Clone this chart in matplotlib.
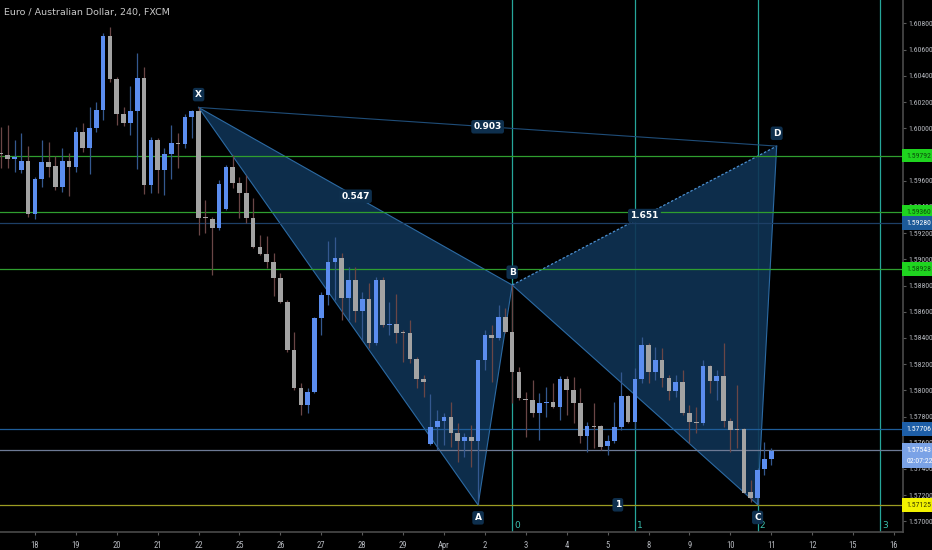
#!/usr/bin/env python3
"""EUR/AUD 4h candles with an XABCD pattern, price lines and fib time zones."""

import matplotlib
matplotlib.use("Agg")
import matplotlib.pyplot as plt
import matplotlib.transforms as mtransforms
from matplotlib import font_manager
import numpy as np

# 4h bars, first bar is 5 bars before Mar 18 00:00
first_bar = -5
opens = [
    1.59805, 1.59796, 1.59768, 1.59681, 1.59752, 1.59345, 1.59610, 1.59742, 1.59712, 1.59549,
    1.59747, 1.59702, 1.59969, 1.59852, 1.59999, 1.60139, 1.60706, 1.60373, 1.60106, 1.60037,
    1.60134, 1.60381, 1.59567, 1.59910, 1.59681, 1.59801, 1.59885, 1.59880, 1.60088, 1.60129,
    1.59317, 1.59310, 1.59241, 1.59381, 1.59707, 1.59579, 1.59503, 1.59317, 1.59096, 1.59038,
    1.58977, 1.58854, 1.58677, 1.58308, 1.58015, 1.57888, 1.57990, 1.58555, 1.58728, 1.58982,
    1.59007, 1.58702, 1.58842, 1.58608, 1.58697, 1.58359, 1.58842, 1.58496, 1.58504, 1.58440,
    1.58440, 1.58237, 1.58087, 1.57588, 1.57723, 1.57769, 1.57799, 1.57677, 1.57616, 1.57646,
    1.57616, 1.58232, 1.58422, 1.58397, 1.58562, 1.58448, 1.58142, 1.57934, 1.57926, 1.57830,
    1.57906, 1.57914, 1.57870, 1.58084, 1.58003, 1.57905, 1.57651, 1.57727, 1.57727, 1.57575,
    1.57613, 1.57717, 1.57956, 1.57760, 1.58086, 1.58346, 1.58142, 1.58231, 1.58091, 1.57997,
    1.58066, 1.57824, 1.57760, 1.57753, 1.58185, 1.58073, 1.58109, 1.57768, 1.57702, 1.57702,
    1.57226, 1.57175, 1.57397, 1.57473,
]
highs = [
    1.60007, 1.60025, 1.59910, 1.59961, 1.59864, 1.59630, 1.59910, 1.59897, 1.59788, 1.59847,
    1.59808, 1.60007, 1.60037, 1.60159, 1.60203, 1.60729, 1.60770, 1.60394, 1.60159, 1.60322,
    1.60572, 1.60470, 1.59936, 1.59923, 1.59847, 1.60025, 1.59961, 1.60106, 1.60139, 1.60159,
    1.59452, 1.59325, 1.59605, 1.59717, 1.59796, 1.59630, 1.59641, 1.59465, 1.59185, 1.59177,
    1.59050, 1.58893, 1.58689, 1.58448, 1.58053, 1.58015, 1.58562, 1.58753, 1.59142, 1.59173,
    1.59046, 1.58944, 1.58944, 1.58753, 1.58817, 1.58868, 1.58868, 1.58677, 1.58735, 1.58460,
    1.58537, 1.58257, 1.58117, 1.57972, 1.57850, 1.57825, 1.57914, 1.57748, 1.57672, 1.57735,
    1.58232, 1.58460, 1.58499, 1.58651, 1.58626, 1.58804, 1.58181, 1.57990, 1.58079, 1.57977,
    1.58028, 1.58053, 1.58109, 1.58109, 1.58104, 1.58015, 1.57760, 1.57900, 1.57735, 1.57659,
    1.57913, 1.58142, 1.57964, 1.58167, 1.58409, 1.58358, 1.58333, 1.58320, 1.58117, 1.58117,
    1.58155, 1.57888, 1.57875, 1.58231, 1.58193, 1.58155, 1.58358, 1.57786, 1.58040, 1.57710,
    1.57315, 1.57404, 1.57608, 1.57557,
]
lows = [
    1.59694, 1.59694, 1.59669, 1.59656, 1.59325, 1.59305, 1.59554, 1.59630, 1.59529, 1.59516,
    1.59483, 1.59669, 1.59821, 1.59651, 1.59974, 1.60063, 1.60355, 1.60025, 1.60017, 1.59948,
    1.59686, 1.59498, 1.59503, 1.59508, 1.59490, 1.59610, 1.59694, 1.59847, 1.59923, 1.59185,
    1.59198, 1.58880, 1.59223, 1.59376, 1.59541, 1.59312, 1.59274, 1.59083, 1.59032, 1.58931,
    1.58720, 1.58664, 1.58295, 1.58003, 1.57812, 1.57830, 1.57977, 1.58422, 1.58651, 1.58689,
    1.58537, 1.58537, 1.58524, 1.58384, 1.58321, 1.58346, 1.58486, 1.58422, 1.58359, 1.58219,
    1.58206, 1.58015, 1.57952, 1.57583, 1.57545, 1.57583, 1.57570, 1.57456, 1.57494, 1.57417,
    1.57125, 1.58155, 1.58066, 1.58384, 1.58435, 1.57906, 1.57926, 1.57646, 1.57799, 1.57621,
    1.57799, 1.57863, 1.57774, 1.57812, 1.57748, 1.57595, 1.57532, 1.57557, 1.57544, 1.57506,
    1.57595, 1.57697, 1.57748, 1.57710, 1.58053, 1.58053, 1.58078, 1.58028, 1.57926, 1.57951,
    1.57811, 1.57595, 1.57671, 1.57735, 1.57977, 1.57926, 1.57722, 1.57532, 1.57557, 1.57213,
    1.57150, 1.57128, 1.57353, 1.57430,
]
closes = [
    1.59800, 1.59762, 1.59783, 1.59752, 1.59345, 1.59610, 1.59742, 1.59707, 1.59554, 1.59747,
    1.59702, 1.59969, 1.59852, 1.59999, 1.60139, 1.60706, 1.60373, 1.60106, 1.60037, 1.60134,
    1.60381, 1.59567, 1.59910, 1.59681, 1.59801, 1.59885, 1.59880, 1.60088, 1.60129, 1.59317,
    1.59312, 1.59241, 1.59574, 1.59707, 1.59579, 1.59503, 1.59317, 1.59096, 1.59038, 1.58977,
    1.58854, 1.58677, 1.58308, 1.58015, 1.57888, 1.57990, 1.58555, 1.58728, 1.58982, 1.59007,
    1.58702, 1.58842, 1.58608, 1.58697, 1.58359, 1.58842, 1.58499, 1.58504, 1.58440, 1.58435,
    1.58237, 1.58087, 1.58061, 1.57723, 1.57766, 1.57799, 1.57672, 1.57616, 1.57646, 1.57616,
    1.58232, 1.58422, 1.58397, 1.58562, 1.58448, 1.58142, 1.57939, 1.57926, 1.57825, 1.57906,
    1.57914, 1.57875, 1.58084, 1.58003, 1.57905, 1.57651, 1.57727, 1.57722, 1.57570, 1.57613,
    1.57722, 1.57956, 1.57760, 1.58086, 1.58346, 1.58142, 1.58231, 1.58091, 1.57997, 1.58066,
    1.57824, 1.57760, 1.57753, 1.58185, 1.58073, 1.58109, 1.57768, 1.57697, 1.57697, 1.57219,
    1.57175, 1.57392, 1.57473, 1.57539,
]

day_labels = ["18", "19", "20", "21", "22", "25", "26", "27", "28", "29", "Apr",
              "2", "3", "4", "5", "8", "9", "10", "11", "12", "15", "16"]
bars_per_day = 6

# XABCD pattern (bar index, price)
pattern_names = ["X", "A", "B", "C", "D"]
pattern_bars = [24, 65, 70, 106, 108.8]
pattern_prices = [1.60159, 1.57125, 1.58804, 1.57128, 1.59864]
ratio_labels = {("X", "B"): "0.547", ("A", "C"): "1", ("B", "D"): "1.651", ("X", "D"): "0.903"}

# horizontal price lines: level, line colour, box colour, text colour
price_levels = [1.59792, 1.59360, 1.59280, 1.58928, 1.57706, 1.57543, 1.57125]
level_line_colors = ["#2f9e2f", "#2f9e2f", "#1d3f66", "#2f9e2f", "#1f5d99", "#6d7a95", "#9c9c22"]
level_box_colors = ["#1fd41f", "#1fd41f", "#1c5a99", "#1fd41f", "#1e5fa8", "#7aa2e6", "#f2f200"]
level_text_colors = ["#0b4d0b", "#0b4d0b", "white", "#0b4d0b", "white", "white", "#3a3a00"]
countdown = "02:07:22"

# scale ticks; 1.59800 is hidden behind the 1.59792 box on the original
scale_ticks = [1.570, 1.572, 1.574, 1.576, 1.578, 1.580, 1.582, 1.584, 1.586, 1.588,
               1.590, 1.592, 1.594, 1.596, 1.600, 1.602, 1.604, 1.606, 1.608]

# fib time zones
time_zone_bars = [70, 88, 106, 124]
time_zone_labels = ["0", "1", "2", "3"]

title = "Euro / Australian Dollar, 240, FXCM"

BG = "#000000"
UP = "#5b8def"
DOWN = "#a3a3a3"
UP_WICK = "#34588f"
DOWN_WICK = "#6a4646"
AXIS_TXT = "#b4b7bd"


def pick_narrow_font() -> list[str]:
    names = {f.name for f in font_manager.fontManager.ttflist}
    for cand in ("Liberation Sans Narrow", "Roboto Condensed", "Open Sans Condensed"):
        if cand in names:
            return [cand, "DejaVu Sans"]
    return ["Liberation Sans", "DejaVu Sans"]


def main() -> None:
    narrow = pick_narrow_font()
    scale_size = 5.6 if "Narrow" in narrow[0] or "Condensed" in narrow[0] else 4.9

    fig = plt.figure(figsize=(9.32, 5.5), dpi=100, facecolor=BG)
    ax = fig.add_axes([0, 18 / 550, 903 / 932, 532 / 550], facecolor=BG)

    o = np.array(opens)
    h = np.array(highs)
    l = np.array(lows)
    c = np.array(closes)
    x = np.arange(len(c)) + first_bar
    up = c >= o

    # time zones (behind everything)
    for b, lab in zip(time_zone_bars, time_zone_labels):
        ax.axvline(b, color="#26a69a", lw=0.9, zorder=1)
        ax.annotate(lab, xy=(b, 0), xycoords=("data", "axes fraction"),
                    xytext=(1.5, 1.5), textcoords="offset points",
                    color="#3cc0b0", fontsize=6.5, va="bottom", ha="left")

    # pattern triangles
    pts = dict(zip(pattern_names, zip(pattern_bars, pattern_prices)))
    for tri in (("X", "A", "B"), ("B", "C", "D")):
        xs = [pts[n][0] for n in tri]
        ys = [pts[n][1] for n in tri]
        ax.fill(xs, ys, color="#0f3354", alpha=0.9, lw=0, zorder=2)
    for a, b in (("X", "A"), ("A", "B"), ("B", "C"), ("C", "D"), ("X", "B")):
        ax.plot([pts[a][0], pts[b][0]], [pts[a][1], pts[b][1]],
                color="#2c6aa3", lw=0.8, zorder=2.5)
    ax.plot([pts["B"][0], pts["D"][0]], [pts["B"][1], pts["D"][1]],
            color="#4b8fd0", lw=0.9, ls=(0, (2, 1.5)), zorder=2.5)
    ax.plot([pts["X"][0], pts["D"][0]], [pts["X"][1], pts["D"][1]],
            color="#1f4d78", lw=0.8, zorder=2.5)

    # price lines
    for lvl, col in zip(price_levels, level_line_colors):
        ax.axhline(lvl, color=col, lw=0.9, zorder=3)

    # candles
    wick_cols = np.where(up, UP_WICK, DOWN_WICK)
    ax.vlines(x, l, h, colors=wick_cols, lw=0.9, zorder=4)
    body_lo = np.minimum(o, c)
    body_h = np.maximum(np.abs(c - o), 0.00008)
    ax.bar(x, body_h, bottom=body_lo, width=0.68,
           color=np.where(up, UP, DOWN), lw=0, zorder=5)

    # ratio labels
    box = dict(boxstyle="round,pad=0.25", fc="#0e2f4d", ec="none")
    for (a, b), txt in ratio_labels.items():
        mx = (pts[a][0] + pts[b][0]) / 2
        my = (pts[a][1] + pts[b][1]) / 2
        ax.text(mx, my, txt, color="white", fontsize=6.5, fontweight="bold",
                ha="center", va="center", bbox=box, zorder=7)

    # point labels
    for n in pattern_names:
        below = n in ("A", "C")
        ax.annotate(n, xy=pts[n], xytext=(0, -6 if below else 6),
                    textcoords="offset points", ha="center",
                    va="top" if below else "bottom",
                    color="white", fontsize=6.5, fontweight="bold",
                    bbox=box, zorder=7)

    ax.set_xlim(-5.13, 127.33)
    ax.set_ylim(1.56919, 1.60979)

    # axes styling
    for side in ("top", "left"):
        ax.spines[side].set_visible(False)
    for side in ("right", "bottom"):
        ax.spines[side].set_color("#4a4a4a")
        ax.spines[side].set_linewidth(1.2)
    ax.yaxis.tick_right()
    ax.set_yticks(scale_ticks)
    ax.set_yticklabels([f"{v:.5f}" for v in scale_ticks], family=narrow)
    ax.set_xticks(np.arange(len(day_labels)) * bars_per_day)
    ax.set_xticklabels(day_labels, family=narrow)
    ax.tick_params(colors="#5a5a5a", labelcolor=AXIS_TXT, labelsize=scale_size,
                   length=2.5, width=0.8)
    ax.tick_params(axis="y", pad=1.5)
    ax.tick_params(axis="x", pad=4, labelsize=scale_size + 0.6)

    # price-line boxes on the scale
    trans = mtransforms.blended_transform_factory(ax.transAxes, ax.transData)
    for lvl, fc, tc in zip(price_levels, level_box_colors, level_text_colors):
        ax.text(1.0035, lvl, f"{lvl:.5f}", transform=trans, ha="left", va="center",
                fontsize=scale_size, color=tc, clip_on=False, zorder=10, family=narrow,
                bbox=dict(boxstyle="square,pad=0.5", fc=fc, ec="none"))
    ax.annotate(countdown, xy=(1.0035, price_levels[5]), xycoords=trans,
                xytext=(0, -8), textcoords="offset points",
                ha="left", va="center", fontsize=scale_size, color="white",
                annotation_clip=False, zorder=10, family=narrow,
                bbox=dict(boxstyle="square,pad=0.5", fc=level_box_colors[5], ec="none"))

    fig.text(4 / 932, 1 - 12 / 550, title, color="#c8c8c8", fontsize=6.8,
             ha="left", va="center")

    fig.savefig("out.png", dpi=100, facecolor=BG)
    plt.close(fig)


if __name__ == "__main__":
    main()
